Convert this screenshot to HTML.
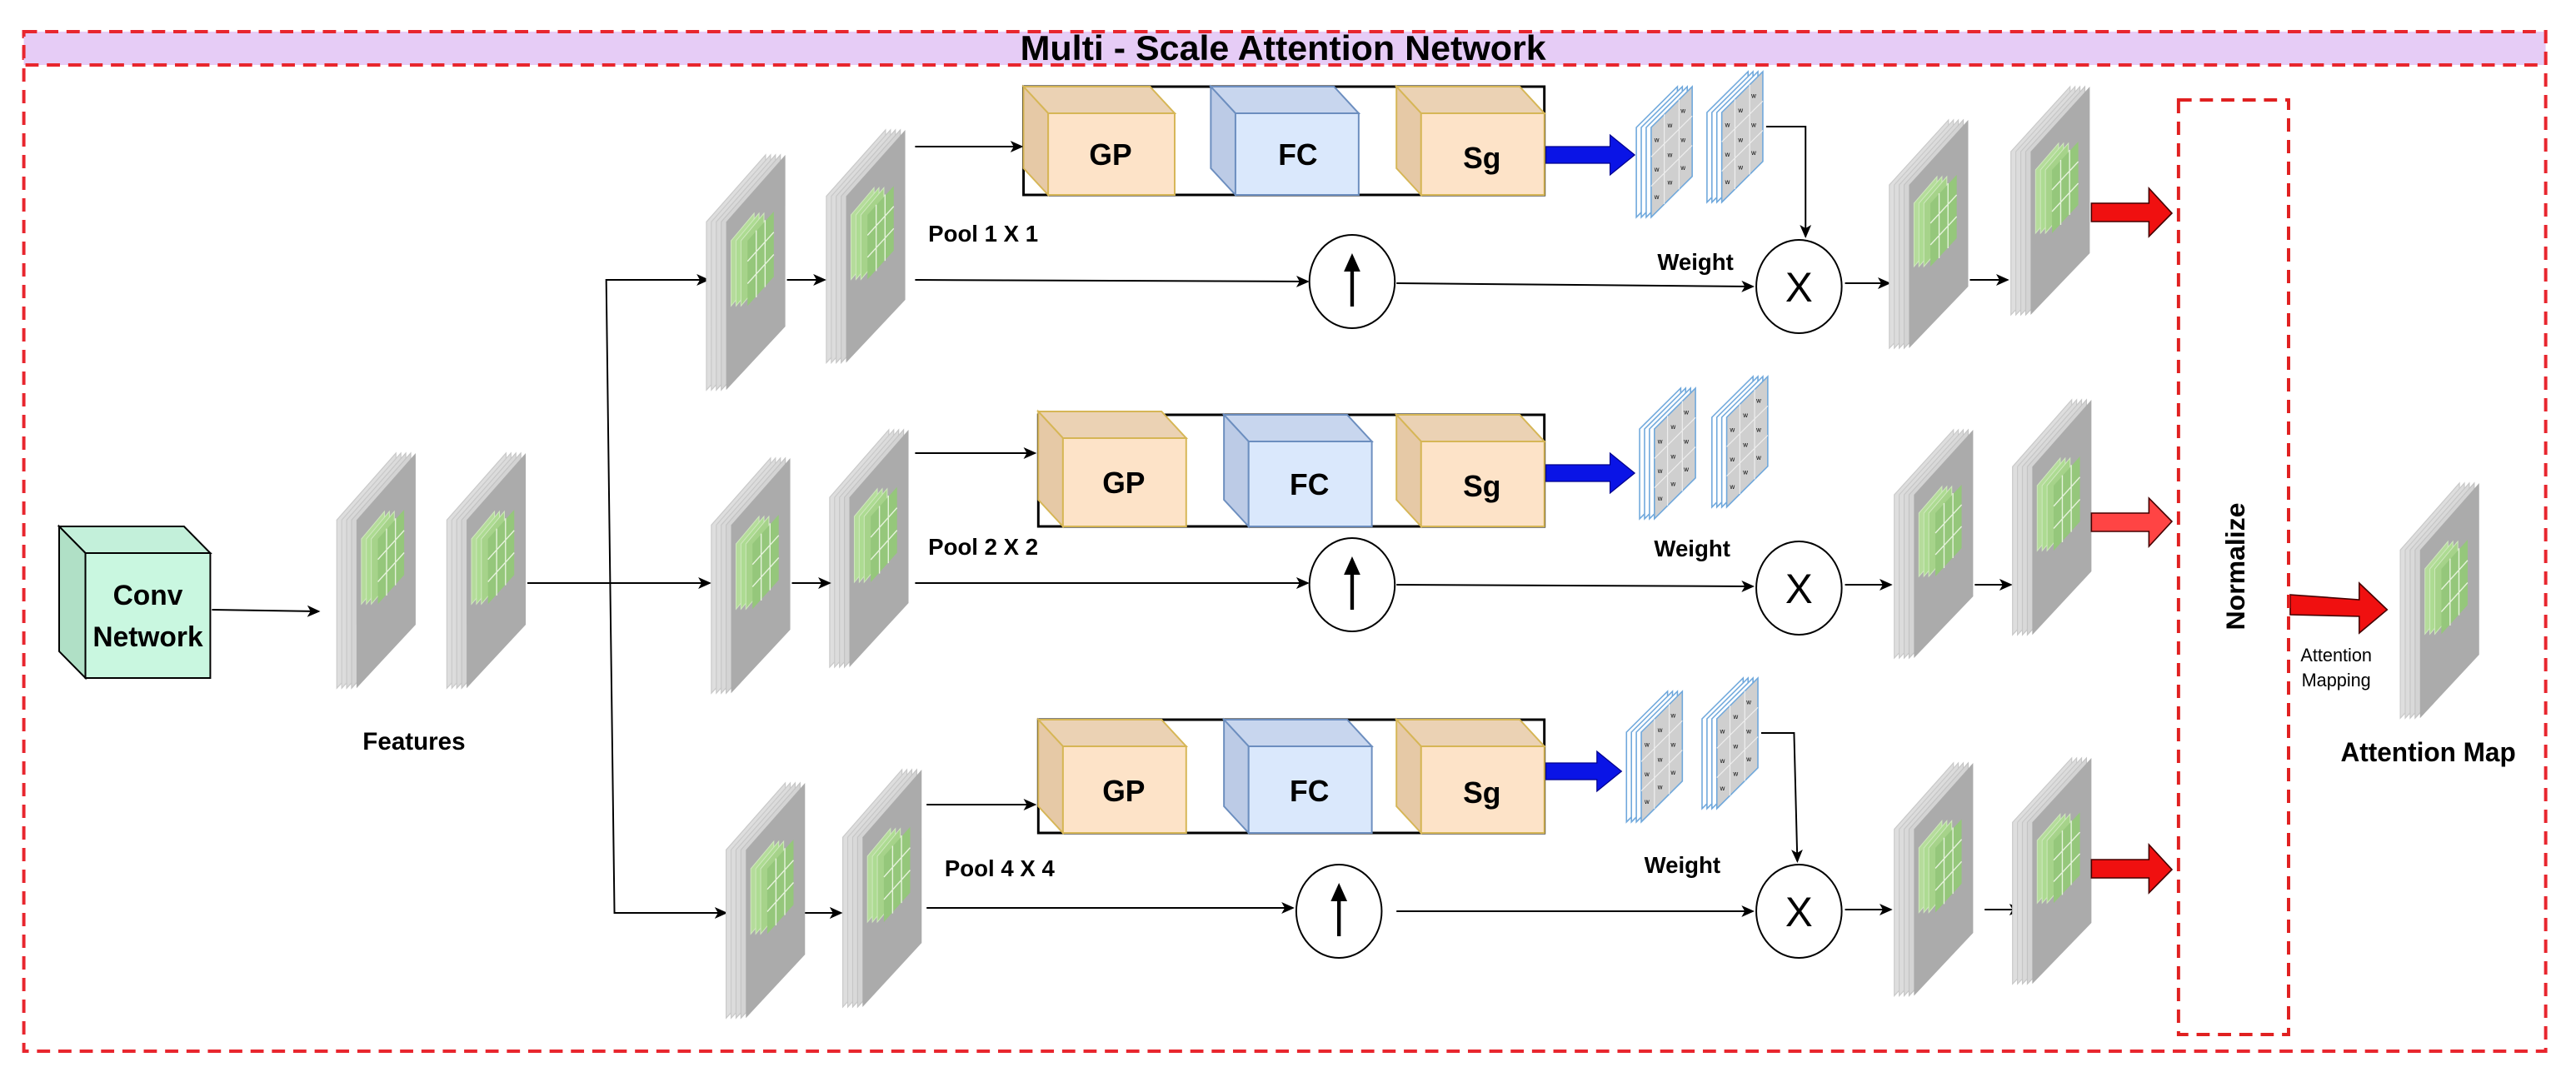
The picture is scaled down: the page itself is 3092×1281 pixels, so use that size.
<!DOCTYPE html>
<html><head><meta charset="utf-8"><style>
html,body{margin:0;padding:0;background:#fff;width:3092px;height:1281px;overflow:hidden}
svg{display:block}
text{font-family:"Liberation Sans",Arial,sans-serif;fill:#000}
</style></head><body>
<svg width="3092" height="1281" viewBox="0 0 1546 640.5" xmlns="http://www.w3.org/2000/svg">
<defs>
<marker id="ah" markerWidth="8" markerHeight="8" refX="7" refY="4" orient="auto" markerUnits="userSpaceOnUse">
<path d="M0,0.5 L8,4 L0,7.5 L2,4 Z" fill="#000"/></marker>
<g id="fm">
<polygon points="0,39 36,0 36,100 0,137" fill="#dedede" stroke="#c9c9c9" stroke-width="0.6"/>
<polygon points="3,39 39,0 39,100 3,137" fill="#dcdcdc" stroke="#c9c9c9" stroke-width="0.6"/>
<polygon points="6,39 42,0 42,100 6,137" fill="#d9d9d9" stroke="#c6c6c6" stroke-width="0.6"/>
<polygon points="9,39 45,0 45,100 9,137" fill="#d4d4d4" stroke="#c3c3c3" stroke-width="0.6"/>
<polygon points="12,39 48,0 48,100 12,137" fill="#ababab"/>
<polygon points="15,50 29,34 29,72 15,88" fill="#b5dc9b" stroke="#cfe8bd" stroke-width="0.5"/>
<polygon points="18,50 32,34 32,72 18,88" fill="#addb92" stroke="#cfe8bd" stroke-width="0.5"/>
<polygon points="21,50 35,34 35,72 21,88" fill="#a6d38a" stroke="#cfe8bd" stroke-width="0.5"/>
<polygon points="25,50 41,33 41,71 25,88" fill="#95c77b"/>
<path d="M30.3,44 V83 M35.7,38 V77 M25,62 L41,45 M25,75 L41,58" stroke="#e6f3dc" stroke-width="0.7" fill="none"/>
</g>
<g id="wm">
<polygon points="0,25 25,0 25,55 0,80" fill="#fff" stroke="#6fa8dc" stroke-width="0.8"/>
<polygon points="3,25 28,0 28,55 3,80" fill="#fff" stroke="#6fa8dc" stroke-width="0.8"/>
<polygon points="6,25 31,0 31,55 6,80" fill="#fff" stroke="#6fa8dc" stroke-width="0.8"/>
<polygon points="9,25 34,0 34,55 9,80" fill="#cfcfcf" stroke="#6fa8dc" stroke-width="0.8"/>
<path d="M17,17 V72 M26,8 V63 M9,43 L34,18 M9,61 L34,36" stroke="#eee" stroke-width="0.6"/>
<g font-size="4">
<text x="11" y="34">w</text><text x="19" y="25">w</text><text x="27" y="16">w</text>
<text x="11" y="52">w</text><text x="19" y="43">w</text><text x="27" y="34">w</text>
<text x="11" y="69">w</text><text x="19" y="60">w</text><text x="27" y="51">w</text>
</g>
</g>
</defs>

<g transform="scale(0.986,1)" font-weight="bold">
<rect x="14.5" y="19" width="1535" height="612" fill="none" stroke="#e8262e" stroke-width="2" stroke-dasharray="8,5"/>
<rect x="14.5" y="19" width="1535" height="20" fill="#e6ccf6" stroke="#e8262e" stroke-width="2" stroke-dasharray="8,5"/>
<text x="781" y="36" font-size="21" text-anchor="middle" textLength="320" lengthAdjust="spacingAndGlyphs">Multi - Scale Attention Network</text>

<polygon points="36,316 112,316 128,332 52,332" fill="#c3f0da" stroke="#000" stroke-width="1"/>
<polygon points="36,316 52,332 52,407 36,391" fill="#b0e0c6" stroke="#000" stroke-width="1"/>
<rect x="52" y="332" width="76" height="75" fill="#c9f7e0" stroke="#000" stroke-width="1"/>
<text x="90" y="363" font-size="17" text-anchor="middle">Conv</text>
<text x="90" y="388" font-size="17" text-anchor="middle">Network</text>
<line x1="129" y1="366" x2="194" y2="367" stroke="#000" stroke-width="1" marker-end="url(#ah)"/>

<use href="#fm" transform="translate(205,272) scale(1,1.03)"/>
<use href="#fm" transform="translate(272,272) scale(1,1.03)"/>
<text x="252" y="450" font-size="15" text-anchor="middle">Features</text>

<line x1="321" y1="350" x2="432" y2="350" stroke="#000" stroke-width="1" marker-end="url(#ah)"/>
<polyline points="430,168 369,168 374,548 440,548" fill="none" stroke="#000" stroke-width="1"/>
<line x1="425" y1="168" x2="431" y2="168" stroke="#000" marker-end="url(#ah)"/>
<line x1="436" y1="548" x2="442" y2="548" stroke="#000" marker-end="url(#ah)"/>

<use href="#fm" transform="translate(430,93) scale(1,1.03)"/>
<use href="#fm" transform="translate(503,78) scale(1,1.02)"/>
<use href="#fm" transform="translate(433,275) scale(1,1.03)"/>
<use href="#fm" transform="translate(505,258) scale(1,1.04)"/>
<use href="#fm" transform="translate(442,470) scale(1,1.03)"/>
<use href="#fm" transform="translate(513,462) scale(1,1.04)"/>
<g stroke="#000" stroke-width="1" marker-end="url(#ah)">
<line x1="479" y1="168" x2="502" y2="168"/>
<line x1="482" y1="350" x2="505" y2="350"/>
<line x1="490" y1="548" x2="512" y2="548"/>
<line x1="557" y1="88" x2="622" y2="88"/>
<line x1="557" y1="272" x2="630" y2="272"/>
<line x1="564" y1="483" x2="630" y2="483"/>
<line x1="557" y1="168" x2="796" y2="169"/>
<line x1="557" y1="350" x2="796" y2="350"/>
<line x1="564" y1="545" x2="787" y2="545"/>
<line x1="850" y1="170" x2="1067" y2="172"/>
<line x1="850" y1="351" x2="1067" y2="352"/>
<line x1="850" y1="547" x2="1067" y2="547"/>
<line x1="1123" y1="170" x2="1150" y2="170"/>
<line x1="1123" y1="351" x2="1151" y2="351"/>
<line x1="1123" y1="546" x2="1151" y2="546"/>
<line x1="1199" y1="168" x2="1222" y2="168"/>
<line x1="1202" y1="351" x2="1224" y2="351"/>
<line x1="1208" y1="546" x2="1230" y2="546"/>
</g>
<text x="565" y="145" font-size="14">Pool 1 X 1</text>
<text x="565" y="333" font-size="14">Pool 2 X 2</text>
<text x="575" y="526" font-size="14">Pool 4 X 4</text>

<g fill="#fff" stroke="#000" stroke-width="1">
<ellipse cx="823" cy="169" rx="26" ry="28"/>
<ellipse cx="823" cy="351" rx="26" ry="28"/>
<ellipse cx="815" cy="547" rx="26" ry="28"/>
<ellipse cx="1095" cy="172" rx="26" ry="28"/>
<ellipse cx="1095" cy="353" rx="26" ry="28"/>
<ellipse cx="1095" cy="547" rx="26" ry="28"/>
</g>
<g stroke="#000" stroke-width="2.2">
<line x1="823" y1="184" x2="823" y2="160"/><line x1="823" y1="366" x2="823" y2="342"/><line x1="815" y1="562" x2="815" y2="538"/>
</g>
<g fill="#000">
<polygon points="823,152 818,163 828,163"/><polygon points="823,334 818,345 828,345"/><polygon points="815,530 810,541 820,541"/>
</g>
<g font-size="25" font-weight="normal" text-anchor="middle">
<text x="1095" y="181" transform="scale(1,1)">X</text>
<text x="1095" y="362">X</text>
<text x="1095" y="556">X</text>
</g>

<g stroke-width="1">
<rect x="623" y="52" width="317" height="65" fill="none" stroke="#000" stroke-width="1.5"/>
<g stroke="#d6b656"><polygon points="623,52 700,52 715,68 638,68" fill="#ebd2b4"/><polygon points="623,52 638,68 638,117 623,101" fill="#e6c9a6"/><rect x="638" y="68" width="77" height="49" fill="#fde3c8"/></g>
<g stroke="#6c8ebf"><polygon points="737,52 812,52 827,68 752,68" fill="#c8d6ee"/><polygon points="737,52 752,68 752,117 737,101" fill="#bccbe6"/><rect x="752" y="68" width="75" height="49" fill="#dae8fc"/></g>
<g stroke="#d6b656"><polygon points="850,52 925,52 940,68 865,68" fill="#ebd2b4"/><polygon points="850,52 865,68 865,117 850,101" fill="#e6c9a6"/><rect x="865" y="68" width="75" height="49" fill="#fde3c8"/></g>
<rect x="632" y="249" width="308" height="67" fill="none" stroke="#000" stroke-width="1.5"/>
<g stroke="#d6b656"><polygon points="632,247 707,247 722,263 647,263" fill="#ebd2b4"/><polygon points="632,247 647,263 647,316 632,300" fill="#e6c9a6"/><rect x="647" y="263" width="75" height="53" fill="#fde3c8"/></g>
<g stroke="#6c8ebf"><polygon points="745,249 820,249 835,265 760,265" fill="#c8d6ee"/><polygon points="745,249 760,265 760,316 745,300" fill="#bccbe6"/><rect x="760" y="265" width="75" height="51" fill="#dae8fc"/></g>
<g stroke="#d6b656"><polygon points="850,249 925,249 940,265 865,265" fill="#ebd2b4"/><polygon points="850,249 865,265 865,316 850,300" fill="#e6c9a6"/><rect x="865" y="265" width="75" height="51" fill="#fde3c8"/></g>
<rect x="632" y="432" width="308" height="68" fill="none" stroke="#000" stroke-width="1.5"/>
<g stroke="#d6b656"><polygon points="632,432 707,432 722,448 647,448" fill="#ebd2b4"/><polygon points="632,432 647,448 647,500 632,484" fill="#e6c9a6"/><rect x="647" y="448" width="75" height="52" fill="#fde3c8"/></g>
<g stroke="#6c8ebf"><polygon points="745,432 820,432 835,448 760,448" fill="#c8d6ee"/><polygon points="745,432 760,448 760,500 745,484" fill="#bccbe6"/><rect x="760" y="448" width="75" height="52" fill="#dae8fc"/></g>
<g stroke="#d6b656"><polygon points="850,432 925,432 940,448 865,448" fill="#ebd2b4"/><polygon points="850,432 865,448 865,500 850,484" fill="#e6c9a6"/><rect x="865" y="448" width="75" height="52" fill="#fde3c8"/></g>
</g>
<g font-size="18" text-anchor="middle">
<text x="676" y="99">GP</text><text x="790" y="99">FC</text><text x="902" y="101">Sg</text>
<text x="684" y="296">GP</text><text x="797" y="297">FC</text><text x="902" y="298">Sg</text>
<text x="684" y="481">GP</text><text x="797" y="481">FC</text><text x="902" y="482">Sg</text>
</g>

<g fill="#0a14e6" stroke="#00008b" stroke-width="0.6">
<polygon points="941,88 980,88 980,81 995,93 980,105 980,98 941,98"/>
<polygon points="941,279 980,279 980,272 995,284 980,296 980,289 941,289"/>
<polygon points="941,458 972,458 972,451 987,463 972,475 972,468 941,468"/>
</g>

<g font-weight="normal">
<use href="#wm" transform="translate(996,52) scale(1,0.98)"/>
<use href="#wm" transform="translate(1039,43) scale(1,0.98)"/>
<use href="#wm" transform="translate(998,233) scale(1,0.98)"/>
<use href="#wm" transform="translate(1042,226) scale(1,0.98)"/>
<use href="#wm" transform="translate(990,415) scale(1,0.98)"/>
<use href="#wm" transform="translate(1036,407) scale(1,0.98)"/>
</g>
<g font-size="14" text-anchor="middle">
<text x="1032" y="162">Weight</text><text x="1030" y="334">Weight</text><text x="1024" y="524">Weight</text>
</g>
<polyline points="1075,76 1099,76 1099,142" fill="none" stroke="#000" stroke-width="1" marker-end="url(#ah)"/>
<polyline points="1072,440 1092,440 1094,517" fill="none" stroke="#000" stroke-width="1" marker-end="url(#ah)"/>

<use href="#fm" transform="translate(1150,72) scale(1,1.0)"/>
<use href="#fm" transform="translate(1224,52) scale(1,1.0)"/>
<use href="#fm" transform="translate(1153,258) scale(1,1.0)"/>
<use href="#fm" transform="translate(1225,240) scale(1,1.03)"/>
<use href="#fm" transform="translate(1153,458) scale(1,1.02)"/>
<use href="#fm" transform="translate(1225,455) scale(1,0.99)"/>
<use href="#fm" transform="translate(1461,290) scale(1,1.03)"/>

<g fill="#f01010" stroke="#400" stroke-width="0.8">
<polygon points="1273,122 1308,122 1308,113 1322,128 1308,142 1308,133 1273,133"/>
<polygon points="1273,308 1308,308 1308,299 1322,313 1308,328 1308,319 1273,319" fill="#f44"/>
<polygon points="1273,516 1308,516 1308,507 1322,522 1308,536 1308,527 1273,527"/>
<polygon points="1394,357 1436,360 1436,350 1453,366 1436,380 1436,370 1394,369"/>
</g>

<rect x="1326" y="60" width="67" height="561" fill="none" stroke="#e02020" stroke-width="2" stroke-dasharray="8,5"/>
<text transform="translate(1366,340) rotate(-90)" font-size="16" text-anchor="middle">Normalize</text>
<text x="1422" y="397" font-size="11" text-anchor="middle" font-weight="normal">Attention</text>
<text x="1422" y="412" font-size="11" text-anchor="middle" font-weight="normal">Mapping</text>
<text x="1478" y="457" font-size="16" text-anchor="middle">Attention Map</text>
</g>
</svg>
</body></html>
